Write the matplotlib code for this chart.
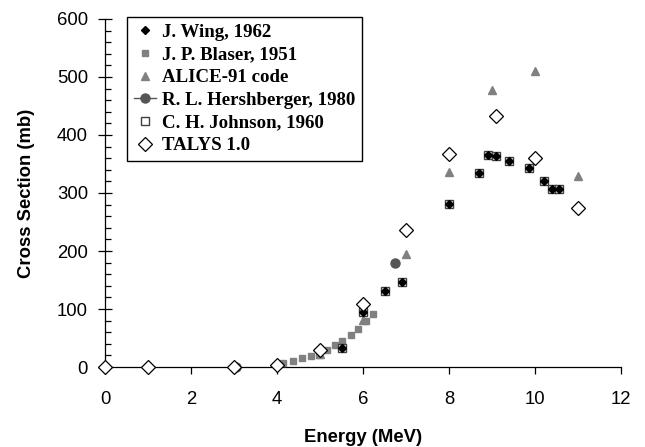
import matplotlib
matplotlib.use("Agg")
import matplotlib.pyplot as plt
from matplotlib.lines import Line2D
from matplotlib.ticker import MultipleLocator

# ---- data ----
wing_E = [5.5, 6.0, 6.5, 6.9, 8.0, 8.7, 8.9, 9.1, 9.4, 9.85, 10.2, 10.4, 10.55]
wing_S = [32, 95, 131, 146, 281, 334, 366, 364, 355, 343, 321, 307, 307]
johnson_E = [5.5, 6.0, 6.5, 6.9, 8.0, 8.7, 8.9, 9.1, 9.4, 9.85, 10.2, 10.4, 10.55]
johnson_S = [32, 95, 131, 146, 281, 334, 366, 364, 355, 343, 321, 307, 307]
blaser_E = [4.15, 4.38, 4.58, 4.78, 4.98, 5.17, 5.35, 5.52, 5.71, 5.88, 6.07, 6.23]
blaser_S = [7, 11, 15, 19, 20, 30, 38, 45, 55, 65, 79, 91]
alice_E = [5, 6, 7, 8, 9, 10, 11]
alice_S = [22, 81, 195, 337, 478, 511, 330]
hersh_E = [3.05, 6.75]
hersh_S = [0, 180]
talys_E = [0, 1, 3, 4, 5, 6, 7, 8, 9.1, 10, 11]
talys_S = [0, 0, 0, 4, 29, 108, 236, 367, 433, 360, 274]

labels = ["J. Wing, 1962", "J. P. Blaser, 1951", "ALICE-91 code",
          "R. L. Hershberger, 1980", "C. H. Johnson, 1960", "TALYS 1.0"]
xticks = [0, 2, 4, 6, 8, 10, 12]
yticks = [0, 100, 200, 300, 400, 500, 600]

GRAY = "#808080"
DGRAY = "#555555"

fig = plt.figure(figsize=(6.45, 4.47), dpi=100)
ax = fig.add_axes([105/645, 1-367/447, 516/645, 348/447])

ax.plot(blaser_E, blaser_S, ls="none", marker="s", ms=4.5, mfc=GRAY, mec=GRAY, zorder=3, clip_on=False)
ax.plot(alice_E, alice_S, ls="none", marker="^", ms=5.5, mfc=GRAY, mec=GRAY, zorder=3, clip_on=False)
ax.plot(hersh_E, hersh_S, ls="none", marker="o", ms=6.5, mfc=DGRAY, mec=DGRAY, zorder=3, clip_on=False)
ax.plot(johnson_E, johnson_S, ls="none", marker="s", ms=6.3, mfc="white", mec="#404040", mew=1.0, zorder=4, clip_on=False)
ax.plot(wing_E, wing_S, ls="none", marker="D", ms=3.6, mfc="black", mec="black", zorder=5, clip_on=False)
ax.plot(talys_E, talys_S, ls="none", marker="D", ms=6.8, mfc="white", mec="black", mew=0.9, zorder=6, clip_on=False)

ax.set_xlim(0, 12)
ax.set_ylim(0, 600)
ax.set_xticks(xticks)
ax.set_yticks(yticks)
ax.yaxis.set_minor_locator(MultipleLocator(20))

for s in ["top", "right"]:
    ax.spines[s].set_visible(False)
for s in ["left", "bottom"]:
    ax.spines[s].set_linewidth(0.9)

ax.tick_params(axis="y", which="major", direction="inout", length=9.6, width=0.9, pad=7.5,
               labelsize=13.3)
ax.tick_params(axis="y", which="minor", direction="in", length=4, width=0.9)
ax.tick_params(axis="x", which="major", direction="out", length=5, width=0.9, pad=12,
               labelsize=13.3)
for lab in ax.get_xticklabels() + ax.get_yticklabels():
    lab.set_fontfamily("Liberation Sans")

ax.set_xlabel("Energy (MeV)", fontsize=13.3, fontweight="bold", family="Liberation Sans")
ax.set_ylabel("Cross Section (mb)", fontsize=13.3, fontweight="bold", family="Liberation Sans")
ax.xaxis.set_label_coords(0.5, -0.178)
ax.yaxis.set_label_coords(-0.1357, 0.5)

handles = [
    Line2D([], [], ls="none", marker="D", ms=3.6, mfc="black", mec="black"),
    Line2D([], [], ls="none", marker="s", ms=4.5, mfc=GRAY, mec=GRAY),
    Line2D([], [], ls="none", marker="^", ms=5.5, mfc=GRAY, mec=GRAY),
    Line2D([], [], ls="-", color=DGRAY, lw=1, marker="o", ms=6.5, mfc=DGRAY, mec=DGRAY),
    Line2D([], [], ls="none", marker="s", ms=6.3, mfc="white", mec="#404040", mew=1.0),
    Line2D([], [], ls="none", marker="D", ms=6.8, mfc="white", mec="black", mew=0.9),
]
leg = fig.legend(handles, labels, loc="upper left", bbox_to_anchor=(127/645, 1-17/447),
                 borderaxespad=0, frameon=True, fancybox=False, framealpha=1,
                 edgecolor="black", handlelength=1.2, handletextpad=0.3,
                 labelspacing=0.29, borderpad=0.35,
                 prop={"family": "Liberation Serif", "weight": "bold", "size": 13.6})
leg.get_frame().set_linewidth(1.0)

fig.savefig("out.png", dpi=100)
